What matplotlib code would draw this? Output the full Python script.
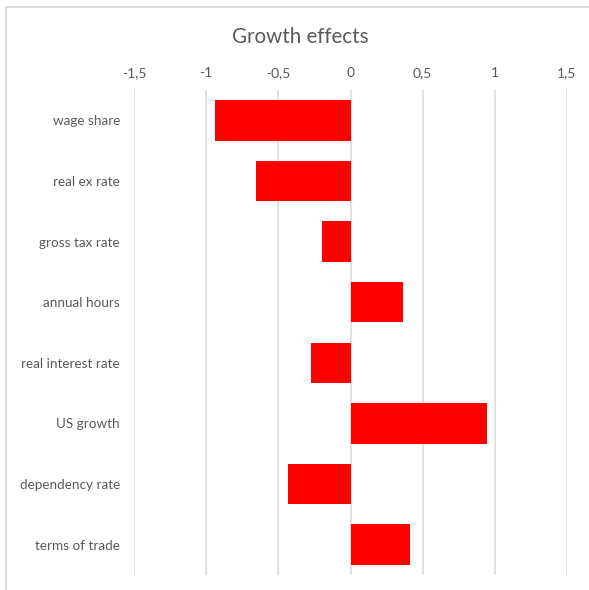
import matplotlib
matplotlib.use('Agg')
import matplotlib.pyplot as plt
from matplotlib.patches import Rectangle

categories = ['wage share', 'real ex rate', 'gross tax rate', 'annual hours',
              'real interest rate', 'US growth', 'dependency rate', 'terms of trade']
effects = [-0.936, -0.658, -0.20, 0.367, -0.277, 0.945, -0.43, 0.409]
ticks = [-1.5, -1, -0.5, 0, 0.5, 1, 1.5]
tick_labels = ['-1,5', '-1', '-0,5', '0', '0,5', '1', '1,5']

plt.rcParams['font.family'] = ['Lato', 'DejaVu Sans']
grey = '#595959'

fig = plt.figure(figsize=(5.89, 5.90), dpi=100)
ax = fig.add_axes([134 / 589, 1 - 575 / 590, (567 - 134) / 589, (575 - 90) / 590])

ypos = list(range(len(categories)))
ax.barh(ypos, effects, height=0.667, color='#ff0000', zorder=3)

ax.set_xlim(-1.5, 1.5)
ax.set_ylim(len(categories) - 0.5, -0.5)
ax.set_xticks(ticks)
ax.set_xticklabels(tick_labels)
ax.xaxis.tick_top()
ax.set_yticks(ypos)
ax.set_yticklabels(categories)
ax.tick_params(axis='x', length=0, pad=8, labelsize=10, labelcolor=grey)
ax.tick_params(axis='y', length=0, pad=10, labelsize=9.7, labelcolor=grey)
ax.grid(axis='x', color='#d9d9d9', linewidth=1.1, zorder=0)
for s in ax.spines.values():
    s.set_visible(False)

fig.text(300 / 589, 1 - 37 / 590, 'Growth effects', ha='center', va='center',
         fontsize=14.8, color=grey)

# chart area border (cut off on right and bottom)
fig.patches.append(Rectangle((6 / 589, -0.1), 1.2, 1.1 - 7 / 590,
                             transform=fig.transFigure, fill=False,
                             edgecolor='#d9d9d9', linewidth=1.2))

fig.savefig('out.png', dpi=100)
